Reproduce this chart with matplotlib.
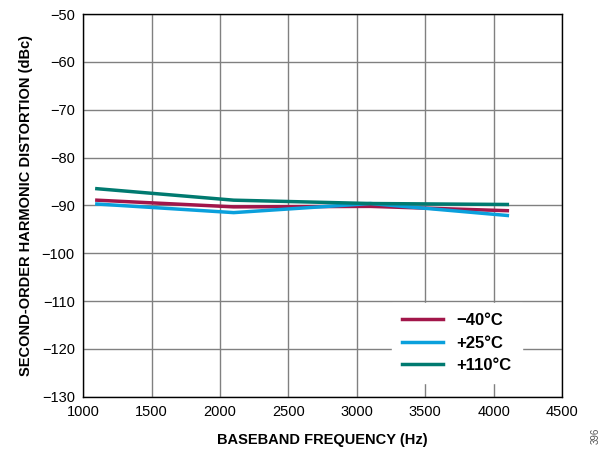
import numpy as np
import matplotlib.pyplot as plt

plt.rcParams['font.family'] = ['Liberation Sans', 'DejaVu Sans']

freq = [1100, 2100, 3100, 4100]
hd2_m40 = [-88.9, -90.3, -90.2, -91.1]
hd2_p25 = [-89.7, -91.5, -89.6, -92.1]
hd2_p110 = [-86.5, -88.9, -89.6, -89.8]

fig = plt.figure(figsize=(6.07, 4.53), dpi=100)
ax = fig.add_axes([0.137, 0.124, 0.789, 0.845])

ax.plot(freq, hd2_m40, color="#A2164A", lw=2.5, label="\u221240°C")
ax.plot(freq, hd2_p25, color="#0AA0DC", lw=2.5, label="+25°C")
ax.plot(freq, hd2_p110, color="#007A70", lw=2.5, label="+110°C")

ax.set_xlim(1000, 4500)
ax.set_ylim(-130, -50)
ax.set_xticks(np.arange(1000, 4501, 500))
ax.set_yticks(np.arange(-130, -49, 10))
ax.set_yticklabels([f"\u2212{abs(v)}" for v in range(-130, -49, 10)])
ax.grid(True, color="#808080", lw=1)
ax.tick_params(length=0, labelsize=10.5, pad=6)
for s in ax.spines.values():
    s.set_color("black")
    s.set_linewidth(1)

ax.set_xlabel("BASEBAND FREQUENCY (Hz)", fontsize=10.5, fontweight="bold", labelpad=10)
ax.set_ylabel("SECOND-ORDER HARMONIC DISTORTION (dBc)", fontsize=10.5, fontweight="bold", labelpad=6)

leg = ax.legend(loc="center", bbox_to_anchor=(0.78, 0.14), frameon=True,
                fancybox=False, edgecolor="white", framealpha=1,
                prop={"weight": "bold", "size": 12}, handlelength=2.5,
                labelspacing=0.45, borderpad=0.6)

fig.text(0.982, 0.02, "396", rotation=90, fontsize=7, color="#555555", ha="center", va="bottom")

fig.savefig("out.png", dpi=100)
